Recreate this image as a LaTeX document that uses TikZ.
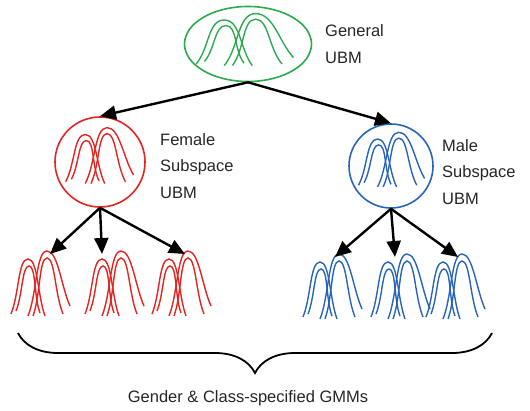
\documentclass[tikz,border=0pt]{standalone}
\usepackage{fontspec}
\setmainfont{Liberation Sans}
\usetikzlibrary{arrows.meta,shapes.geometric,decorations.pathreplacing}
\begin{document}
\begin{tikzpicture}[x=1pt,y=-1pt]
	\definecolor{xanhla}{RGB}{45,170,80}
	\definecolor{do}{RGB}{228,36,32}
	\definecolor{xanh}{RGB}{40,100,185}
	\tikzset{
		chuong/.pic={
			\begin{scope}[line width=1.4pt]
				%Vòm trái
				\draw (-29,30) .. controls +(-68:22) and +(180:10) .. (-12,-25) .. controls +(0:10) and +(-110:22) .. (5,32);
				\draw (-24,27) .. controls +(-68:18) and +(180:7) .. (-11,-18) .. controls +(0:7) and +(-110:18) .. (0,29);
				%Vòm phải
				\draw (-12,32) .. controls +(-68:24) and +(180:11) .. (7,-33) .. controls +(0:11) and +(-114:22) .. (30,22);
				\draw (-7,32) .. controls +(-70:22) and +(180:8) .. (7,-26) .. controls +(0:8) and +(-112:22) .. (23,30);
			\end{scope}
		},
		vien/.style={draw,line width=1.6pt,inner sep=0pt},
		mui/.style={-{Triangle[length=16pt,width=14pt]},line width=2.4pt,black},
		chu/.style={font=\fontsize{16.5}{26.5}\selectfont,align=left,anchor=west,text=black!85,inner sep=0pt}
	}
	\useasboundingbox (0,0) rectangle (530,410);
	
	%Các nút
	\node[vien,xanhla,ellipse,minimum width=127pt,minimum height=75pt] (chung) at (248,44) {};
	\node[vien,do,circle,minimum size=90pt] (nu) at (100,162) {};
	\node[vien,xanh,circle,minimum size=84pt] (nam) at (391,166) {};
	\pic[xanhla,xscale=1.65,yscale=0.8] at (244,40) {chuong};
	\pic[do,xscale=1.15,yscale=0.86] at (99,156) {chuong};
	\pic[xanh,xscale=1.12,yscale=0.84] at (391,160) {chuong};
	
	\node[chu] (tchung) at (325,44) {General\\UBM};
	\node[chu] (tnu) at (160,166) {Female\\Subspace\\UBM};
	\node[chu] (tnam) at (442,172) {Male\\Subspace\\UBM};
	
	\draw[mui] (chung.south) -- (nu.north);
	\draw[mui] (chung.south) -- (nam.north);
	
	%Các GMM
	\foreach \x/\y/\d/\ten/\mau in {
		40/284/50/n1/do,
		114/284/102/n2/do,
		181/284/185/n3/do,
		332/287/335/m1/xanh,
		400/287/395/m2/xanh,
		455/287/458/m3/xanh}{
		\pic[\mau] at (\x,\y) {chuong};
		\coordinate (\ten) at (\d,\y-30);
	}
	\foreach \ten in {n1,n2,n3}
		\draw[mui] (nu.south) -- (\ten);
	\foreach \ten in {m1,m2,m3}
		\draw[mui] (nam.south) -- (\ten);
	
	%Ngoặc
	\coordinate (ngphai) at (492,333);
	\coordinate (ngtrai) at (18,333);
	\draw[line width=1.8pt,decorate,decoration={brace,amplitude=40pt}] (ngphai) -- (ngtrai);
	\node[font=\fontsize{16.5}{20}\selectfont,text=black!85] (tgmm) at (248,398) {Gender \& Class-specified GMMs};
\end{tikzpicture}
\end{document}
